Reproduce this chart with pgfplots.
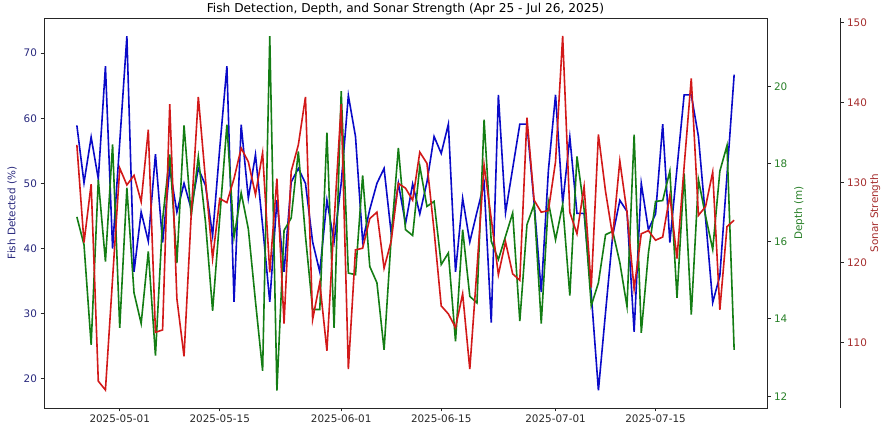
\documentclass[border=0pt]{standalone}
\usepackage{fontspec}
\setmainfont{DejaVu Sans}
\usepackage{pgfplots}
\usepackage{pgfplotstable}
\pgfplotsset{compat=1.18}

\definecolor{cblue}{RGB}{10,10,200}
\definecolor{cgreen}{RGB}{20,125,20}
\definecolor{cred}{RGB}{210,25,25}
\definecolor{lblue}{RGB}{40,40,125}
\definecolor{lgreen}{RGB}{40,128,40}
\definecolor{lred}{RGB}{165,45,45}

\pgfplotstableread{
n blue depth sonar
0 58.9 16.63 134.7
1 50.1 15.91 122.5
2 57.1 13.33 129.8
3 50.7 17.59 105.2
4 68.0 15.48 104.1
5 40.0 18.50 118.0
6 56.3 13.77 131.8
7 72.6 17.38 129.7
8 36.4 14.67 130.9
9 45.6 13.88 127.6
10 41.1 15.74 136.6
11 54.5 13.05 111.3
12 40.9 16.56 111.6
13 52.3 18.24 139.8
14 45.6 15.44 115.5
15 50.0 18.99 108.3
16 46.1 16.65 125.9
17 52.3 18.18 140.7
18 49.7 16.50 130.4
19 42.0 14.21 120.5
20 55.4 16.61 128.0
21 68.0 19.01 127.5
22 31.8 16.11 130.5
23 59.0 17.25 134.3
24 47.7 16.32 132.6
25 54.4 14.45 128.5
26 43.5 12.66 133.7
27 31.8 21.29 118.8
28 47.4 12.15 130.5
29 36.4 16.28 112.4
30 50.2 16.60 131.4
31 52.3 18.32 134.7
32 50.0 16.13 140.7
33 41.0 14.24 112.9
34 36.4 14.24 117.5
35 47.4 18.80 109.0
36 41.0 13.77 125.0
37 50.0 19.87 139.8
38 63.5 15.18 106.7
39 57.2 15.14 121.6
40 41.1 17.70 121.8
41 46.0 15.35 125.5
42 50.0 14.93 126.3
43 52.3 13.20 119.3
44 42.3 16.10 122.7
45 50.0 18.41 129.9
46 43.8 16.30 129.3
47 49.9 16.15 127.8
48 45.3 17.94 133.8
49 50.2 16.90 132.4
50 57.2 17.03 124.0
51 54.6 15.40 114.6
52 59.1 15.70 113.6
53 36.4 13.42 111.9
54 47.7 16.30 116.1
55 41.0 14.58 106.7
56 45.6 14.41 119.2
57 50.0 19.14 132.2
58 28.6 16.00 125.5
59 63.6 15.53 118.5
60 45.5 16.13 122.6
61 52.3 16.73 118.6
62 59.1 13.94 117.8
63 59.1 16.43 138.1
64 47.0 16.95 127.8
65 33.3 13.88 126.3
66 52.0 17.01 126.5
67 63.6 16.04 132.6
68 46.9 16.95 148.3
69 57.1 14.60 126.3
70 45.4 18.19 123.6
71 45.4 16.82 129.5
72 33.0 14.34 116.9
73 18.2 14.93 136.0
74 30.2 16.17 128.9
75 42.0 16.26 123.3
76 47.4 15.45 132.7
77 45.7 14.32 126.3
78 27.2 18.75 116.7
79 50.0 13.64 123.6
80 42.9 15.70 124.0
81 45.3 17.03 122.8
82 59.1 17.05 123.2
83 40.9 17.81 128.4
84 52.3 14.54 120.5
85 63.6 17.75 132.0
86 63.6 14.11 143.0
87 57.2 17.59 125.9
88 44.6 16.65 127.0
89 31.7 15.79 131.3
90 35.8 17.81 114.1
91 51.3 18.47 124.5
92 66.7 13.20 125.3
}\data

\pgfplotsset{
  base/.style={
    scale only axis, height=390pt,
    at={(44pt,22pt)}, anchor=south west,
    xmin=-4.6,
    tick align=outside,
    major tick length=3.5pt,
    axis line style={line width=0.8pt, black!85},
    every tick/.style={line width=0.8pt, black!85},
    tick label style={font=\fontsize{10.4}{12}\selectfont},
    label style={font=\fontsize{10.4}{12}\selectfont},
    /pgf/number format/assume math mode=true,
    scaled ticks=false,
  }
}

\begin{document}
\begin{tikzpicture}
\useasboundingbox (0,0) rectangle (882pt,430pt);

\begin{axis}[base,
  width=723pt, xmax=96.6,
  ymin=15.5, ymax=75.4,
  tick pos=left,
  xtick={6,20,37,51,67,81},
  xticklabels={2025-05-01,2025-05-15,2025-06-01,2025-06-15,2025-07-01,2025-07-15},
  ytick={20,30,40,50,60,70},
  y tick label style={text=lblue},
  x tick label style={text=black!85},
  ylabel={Fish Detected (\%)},
  ylabel style={text=lblue},
  title={Fish Detection, Depth, and Sonar Strength (Apr 25 - Jul 26, 2025)},
  title style={font=\fontsize{12.2}{14}\selectfont, yshift=-7pt},
]
\addplot[cblue, line width=1.6pt] table[x=n,y=blue]{\data};
\end{axis}

\begin{axis}[base,
  width=723pt, xmax=96.6,
  ymin=11.7, ymax=21.76,
  axis y line*=right, axis x line=none,
  ytick={12,14,16,18,20},
  y tick label style={text=lgreen},
  ylabel={Depth (m)},
  ylabel style={text=lgreen},
]
\addplot[cgreen, line width=1.6pt] table[x=n,y=depth]{\data};
\end{axis}

\begin{axis}[base,
  width=796pt, xmax=106.82,
  ymin=101.85, ymax=150.55,
  axis y line*=right, axis x line=none,
  ytick={110,120,130,140,150},
  y tick label style={text=lred},
  ylabel={Sonar Strength},
  ylabel shift=-3.5pt,
  ylabel style={text=lred},
]
\addplot[cred, line width=1.6pt] table[x=n,y=sonar]{\data};
\end{axis}
\end{tikzpicture}
\end{document}
